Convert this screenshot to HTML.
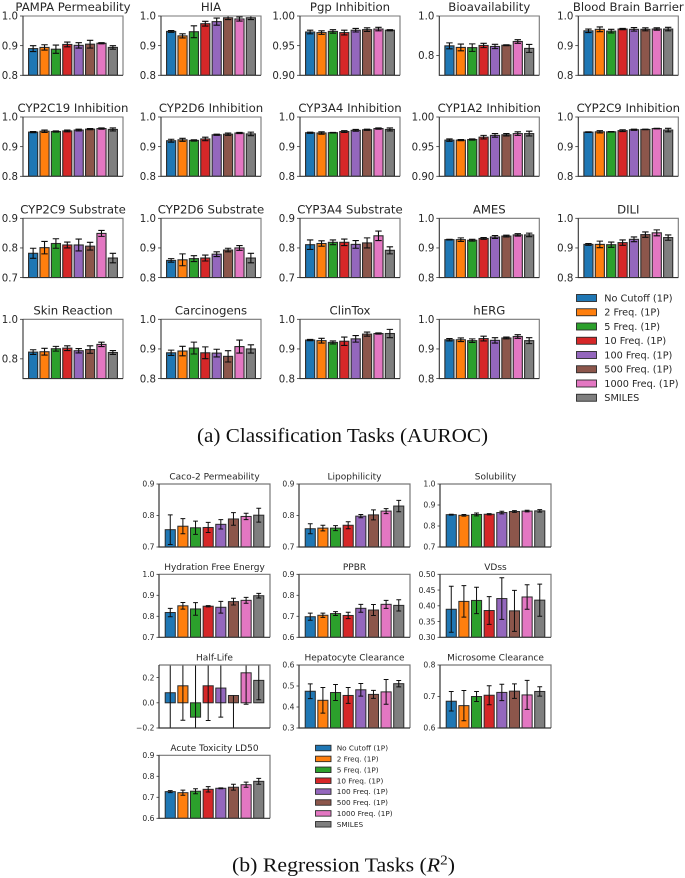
<!DOCTYPE html>
<html lang="en">
<head>
<meta charset="utf-8">
<title>Classification and Regression Task Bar Charts</title>
<style>
  html, body { margin: 0; padding: 0; background: #fff; }
  body { width: 685px; height: 878px; overflow: hidden; }
  svg { display: block; filter: blur(0.3px); }
  .tick-label { font-family: "DejaVu Sans", sans-serif; fill: #262626; }
  .panel-title { font-family: "DejaVu Sans", sans-serif; fill: #262626; }
  .legend-label { font-family: "DejaVu Sans", sans-serif; fill: #262626; }
  .caption { font-family: "Liberation Serif", serif; fill: #111; }
</style>
</head>
<body>
<svg id="figure" width="685" height="878" viewBox="0 0 685 878">
  <g id="plots"></g>
  <text class="caption" x="197" y="442" font-size="20" textLength="291" lengthAdjust="spacingAndGlyphs">(a) Classification Tasks (AUROC)</text>
  <text class="caption" x="232" y="871.5" font-size="20" textLength="223" lengthAdjust="spacingAndGlyphs">(b) Regression Tasks (<tspan font-style="italic">R</tspan><tspan dy="-7" font-size="14">2</tspan><tspan dy="7">)</tspan></text>
</svg>
<script>
const categories = ['No Cutoff (1P)', '2 Freq. (1P)', '5 Freq. (1P)', '10 Freq. (1P)', '100 Freq. (1P)', '500 Freq. (1P)', '1000 Freq. (1P)', 'SMILES'];
const seriesColors = ['#1f77b4', '#ff7f0e', '#2ca02c', '#d62728', '#9467bd', '#8c564b', '#e377c2', '#7f7f7f'];

const classTitles = ['PAMPA Permeability', 'HIA', 'Pgp Inhibition', 'Bioavailability', 'Blood Brain Barrier', 'CYP2C19 Inhibition', 'CYP2D6 Inhibition', 'CYP3A4 Inhibition', 'CYP1A2 Inhibition', 'CYP2C9 Inhibition', 'CYP2C9 Substrate', 'CYP2D6 Substrate', 'CYP3A4 Substrate', 'AMES', 'DILI', 'Skin Reaction', 'Carcinogens', 'ClinTox', 'hERG'];
const classLimits = [[0.8, 1], [0.8, 1], [0.9, 1], [0.7, 1], [0.8, 1], [0.8, 1], [0.8, 1], [0.8, 1], [0.9, 1], [0.8, 1], [0.7, 0.9], [0.8, 1], [0.7, 0.9], [0.8, 1], [0.8, 1], [0.7, 1], [0.8, 1], [0.8, 1], [0.8, 1]];
const classTicks = [
  ['0.8', '0.9', '1.0'], ['0.8', '0.9', '1.0'], ['0.90', '0.95', '1.00'], ['0.8', '1.0'], ['0.8', '0.9', '1.0'],
  ['0.8', '0.9', '1.0'], ['0.8', '0.9', '1.0'], ['0.8', '0.9', '1.0'], ['0.90', '0.95', '1.00'], ['0.8', '0.9', '1.0'],
  ['0.7', '0.8', '0.9'], ['0.8', '0.9', '1.0'], ['0.7', '0.8', '0.9'], ['0.8', '0.9', '1.0'], ['0.8', '0.9', '1.0'],
  ['0.8', '1.0'], ['0.8', '0.9', '1.0'], ['0.8', '0.9', '1.0'], ['0.8', '0.9', '1.0']
];
const classValues = [
  [0.890, 0.894, 0.888, 0.904, 0.901, 0.905, 0.908, 0.894],
  [0.948, 0.933, 0.947, 0.974, 0.981, 0.994, 0.990, 0.994],
  [0.973, 0.972, 0.974, 0.972, 0.976, 0.977, 0.978, 0.976],
  [0.849, 0.841, 0.840, 0.851, 0.846, 0.852, 0.871, 0.836],
  [0.950, 0.955, 0.949, 0.956, 0.955, 0.955, 0.956, 0.956],
  [0.949, 0.952, 0.951, 0.953, 0.956, 0.959, 0.961, 0.958],
  [0.920, 0.923, 0.921, 0.926, 0.940, 0.942, 0.946, 0.943],
  [0.947, 0.946, 0.947, 0.951, 0.955, 0.957, 0.961, 0.958],
  [0.961, 0.961, 0.962, 0.966, 0.969, 0.970, 0.972, 0.972],
  [0.949, 0.950, 0.950, 0.954, 0.957, 0.958, 0.961, 0.956],
  [0.782, 0.801, 0.815, 0.810, 0.810, 0.806, 0.849, 0.766],
  [0.858, 0.860, 0.864, 0.866, 0.879, 0.893, 0.900, 0.866],
  [0.811, 0.815, 0.819, 0.819, 0.812, 0.817, 0.841, 0.792],
  [0.928, 0.928, 0.926, 0.932, 0.937, 0.940, 0.944, 0.944],
  [0.912, 0.912, 0.911, 0.918, 0.929, 0.945, 0.951, 0.935],
  [0.834, 0.836, 0.851, 0.854, 0.841, 0.847, 0.873, 0.832],
  [0.887, 0.893, 0.903, 0.887, 0.886, 0.875, 0.908, 0.900],
  [0.930, 0.928, 0.922, 0.926, 0.934, 0.950, 0.952, 0.952],
  [0.931, 0.931, 0.928, 0.935, 0.929, 0.937, 0.942, 0.928]
];
const classErrors = [
  [0.010, 0.009, 0.014, 0.008, 0.009, 0.013, 0.002, 0.006],
  [0.003, 0.007, 0.020, 0.008, 0.012, 0.006, 0.007, 0.006],
  [0.003, 0.003, 0.003, 0.004, 0.003, 0.003, 0.003, 0.001],
  [0.015, 0.017, 0.019, 0.011, 0.011, 0.002, 0.009, 0.020],
  [0.006, 0.008, 0.006, 0.002, 0.006, 0.005, 0.004, 0.006],
  [0.002, 0.004, 0.002, 0.003, 0.003, 0.002, 0.002, 0.005],
  [0.005, 0.005, 0.002, 0.006, 0.002, 0.004, 0.002, 0.006],
  [0.002, 0.004, 0.001, 0.003, 0.003, 0.002, 0.002, 0.005],
  [0.002, 0.001, 0.001, 0.003, 0.003, 0.002, 0.003, 0.004],
  [0.001, 0.004, 0.001, 0.003, 0.002, 0.001, 0.001, 0.006],
  [0.017, 0.021, 0.016, 0.010, 0.020, 0.013, 0.010, 0.016],
  [0.006, 0.020, 0.010, 0.010, 0.008, 0.006, 0.008, 0.016],
  [0.016, 0.009, 0.008, 0.011, 0.013, 0.017, 0.016, 0.012],
  [0.001, 0.006, 0.003, 0.003, 0.005, 0.003, 0.004, 0.006],
  [0.003, 0.011, 0.009, 0.009, 0.008, 0.009, 0.010, 0.009],
  [0.012, 0.017, 0.012, 0.012, 0.011, 0.019, 0.011, 0.010],
  [0.009, 0.016, 0.020, 0.020, 0.013, 0.019, 0.022, 0.014],
  [0.002, 0.008, 0.005, 0.014, 0.011, 0.007, 0.002, 0.014],
  [0.004, 0.006, 0.006, 0.008, 0.009, 0.003, 0.006, 0.010]
];

const regTitles = ['Caco-2 Permeability', 'Lipophilicity', 'Solubility', 'Hydration Free Energy', 'PPBR', 'VDss', 'Half-Life', 'Hepatocyte Clearance', 'Microsome Clearance', 'Acute Toxicity LD50'];
const regLimits = [[0.7, 0.9], [0.7, 0.9], [0.7, 1], [0.7, 1], [0.6, 0.9], [0.3, 0.5], [-0.2, 0.3], [0.3, 0.6], [0.6, 0.8], [0.6, 0.9]];
const regTicks = [
  ['0.7', '0.8', '0.9'], ['0.7', '0.8', '0.9'], ['0.7', '0.8', '0.9', '1.0'], ['0.7', '0.8', '0.9', '1.0'],
  ['0.6', '0.7', '0.8', '0.9'], ['0.30', '0.35', '0.40', '0.45', '0.50'], ['-0.2', '0.0', '0.2'],
  ['0.3', '0.4', '0.5', '0.6'], ['0.6', '0.7', '0.8'], ['0.6', '0.7', '0.8', '0.9']
];
const regValues = [
  [0.755, 0.766, 0.761, 0.762, 0.772, 0.789, 0.797, 0.801],
  [0.758, 0.760, 0.760, 0.769, 0.798, 0.802, 0.814, 0.830],
  [0.854, 0.851, 0.855, 0.856, 0.864, 0.869, 0.871, 0.872],
  [0.818, 0.850, 0.835, 0.848, 0.843, 0.870, 0.876, 0.898],
  [0.698, 0.705, 0.713, 0.704, 0.738, 0.730, 0.757, 0.752],
  [0.389, 0.414, 0.417, 0.385, 0.423, 0.384, 0.428, 0.418],
  [0.080, 0.135, -0.114, 0.135, 0.117, 0.058, 0.238, 0.178],
  [0.475, 0.432, 0.469, 0.455, 0.482, 0.460, 0.472, 0.511],
  [0.685, 0.671, 0.700, 0.704, 0.713, 0.717, 0.705, 0.716],
  [0.727, 0.722, 0.729, 0.738, 0.743, 0.748, 0.760, 0.776]
];
const regErrors = [
  [0.047, 0.024, 0.021, 0.016, 0.015, 0.020, 0.010, 0.022],
  [0.016, 0.009, 0.008, 0.011, 0.005, 0.016, 0.008, 0.018],
  [0.002, 0.004, 0.007, 0.003, 0.006, 0.004, 0.004, 0.006],
  [0.020, 0.016, 0.030, 0.003, 0.028, 0.016, 0.014, 0.011],
  [0.017, 0.010, 0.009, 0.015, 0.019, 0.026, 0.019, 0.027],
  [0.073, 0.050, 0.042, 0.044, 0.066, 0.065, 0.039, 0.051],
  [0.350, 0.273, 0.430, 0.275, 0.231, [0.300, 0], 0.250, 0.154],
  [0.035, 0.061, 0.038, 0.038, 0.030, 0.019, 0.059, 0.015],
  [0.031, 0.048, 0.016, 0.030, 0.026, 0.023, 0.046, 0.015],
  [0.005, 0.012, 0.012, 0.013, 0.002, 0.014, 0.012, 0.014]
];

const classLayout = { lefts: [23, 161, 300, 439.3, 578.3], tops: [16, 117, 218.3, 319.3], width: 100, height: 59.3, tickFont: 10.2, titleFont: 11.7, titleGap: 5, tickLen: 3, capHalf: 3.2, lineW: 1.1, frameW: 1.1 };
const regLayout = { lefts: [159, 299, 440], tops: [484, 574.3, 665, 755.3], width: 111, height: 63, tickFont: 7.6, titleFont: 9, titleGap: 4.5, tickLen: 2.5, capHalf: 2.4, lineW: 1, frameW: 1.2 };

const svgNS = 'http://www.w3.org/2000/svg';
const plots = document.getElementById('plots');

function shape(parent, tag, attrs) {
  const el = document.createElementNS(svgNS, tag);
  for (const key in attrs) el.setAttribute(key, attrs[key]);
  parent.appendChild(el);
  return el;
}
function slugify(text) {
  return text.toLowerCase().replace(/[^a-z0-9]+/g, '-').replace(/^-|-$/g, '');
}
function yAxis(limits, top, height) {
  return function (v) { return top + height * (limits[1] - v) / (limits[1] - limits[0]); };
}
function xAxis(left, width) {
  const step = width / (8 * 1.0 + 0.8 * 0.1 + 0.7);
  const margin = (width - step * 7.8) / 2;
  return {
    center: function (i) { return left + margin + step * (i + 0.4); },
    barWidth: step * 0.8
  };
}

function drawPanel(prefix, index, layout, title, limits, ticks, values, errors) {
  const col = index % layout.lefts.length;
  const row = Math.floor(index / layout.lefts.length);
  const left = layout.lefts[col];
  const top = layout.tops[row];
  const w = layout.width;
  const h = layout.height;
  const y = yAxis(limits, top, h);
  const x = xAxis(left, w);
  const slug = slugify(title);

  const panel = shape(plots, 'g', {});
  
  

  const clipId = prefix + '-clip-' + index;
  const clip = shape(panel, 'clipPath', { id: clipId });
  
  
  shape(clip, 'rect', { x: left, y: top, width: w, height: h });

  const marks = shape(panel, 'g', { 'clip-path': 'url(#' + clipId + ')' });
  
  

  values.forEach(function (value, i) {
    const base = limits[0] > 0 ? limits[0] : 0;
    const yTop = y(Math.max(value, base));
    const yBot = y(Math.min(value, base));
    const bar = shape(marks, 'rect', {
      x: x.center(i) - x.barWidth / 2, y: yTop, width: x.barWidth, height: yBot - yTop,
      fill: seriesColors[i], stroke: '#2b2b2b', 'stroke-width': layout.lineW
    });
    
    
  });
  values.forEach(function (value, i) {
    const err = errors[i];
    const lo = value - (Array.isArray(err) ? err[0] : err);
    const hi = value + (Array.isArray(err) ? err[1] : err);
    const cx = x.center(i);
    const bar = shape(marks, 'path', {
      d: 'M' + cx + ' ' + y(lo) + 'V' + y(hi) +
         'M' + (cx - layout.capHalf) + ' ' + y(lo) + 'H' + (cx + layout.capHalf) +
         (hi > value ? 'M' + (cx - layout.capHalf) + ' ' + y(hi) + 'H' + (cx + layout.capHalf) : ''),
      fill: 'none', stroke: '#0d0d0d', 'stroke-width': layout.lineW
    });
    
    
  });

  const frame = shape(panel, 'path', {
    d: 'M' + left + ' ' + top + 'H' + (left + w) + 'V' + (top + h),
    fill: 'none', stroke: '#777', 'stroke-width': layout.frameW
  });
  
  
  const axis = shape(panel, 'path', {
    d: 'M' + left + ' ' + top + 'V' + (top + h) + 'H' + (left + w),
    fill: 'none', stroke: '#333', 'stroke-width': layout.frameW
  });
  
  

  ticks.forEach(function (label) {
    const v = Number(label);
    const mark = shape(panel, 'line', {
      x1: left - layout.tickLen, x2: left, y1: y(v), y2: y(v), stroke: '#333', 'stroke-width': 0.8
    });
    
    
    const text = shape(panel, 'text', {
      class: 'tick-label', x: left - layout.tickLen - 2, y: y(v) + layout.tickFont * 0.36,
      'text-anchor': 'end', 'font-size': layout.tickFont
    });
    
    
    text.textContent = label.replace('-', '\u2212');
  });

  const heading = shape(panel, 'text', {
    class: 'panel-title', x: left + w / 2, y: top - layout.titleGap,
    'text-anchor': 'middle', 'font-size': layout.titleFont
  });
  
  
  heading.textContent = title;
}

function drawLegend(name, patchX, patchW, patchH, textX, firstY, stepY, fontSize) {
  const legend = shape(plots, 'g', {});
  
  
  categories.forEach(function (label, i) {
    const cy = firstY + stepY * i;
    const patch = shape(legend, 'rect', {
      x: patchX, y: cy - patchH / 2, width: patchW, height: patchH,
      fill: seriesColors[i], stroke: '#2b2b2b', 'stroke-width': 0.9
    });
    
    
    const text = shape(legend, 'text', {
      class: 'legend-label', x: textX, y: cy + fontSize * 0.36, 'font-size': fontSize
    });
    
    
    text.textContent = label;
  });
}

classTitles.forEach(function (title, i) {
  drawPanel('classification', i, classLayout, title, classLimits[i], classTicks[i], classValues[i], classErrors[i]);
});
regTitles.forEach(function (title, i) {
  drawPanel('regression', i, regLayout, title, regLimits[i], regTicks[i], regValues[i], regErrors[i]);
});
drawLegend('classification-legend', 576.5, 20, 7, 604.3, 298, 14.25, 9.7);
drawLegend('regression-legend', 315.5, 15.5, 5.5, 336.7, 748, 10.9, 7.3);
</script>
</body>
</html>
